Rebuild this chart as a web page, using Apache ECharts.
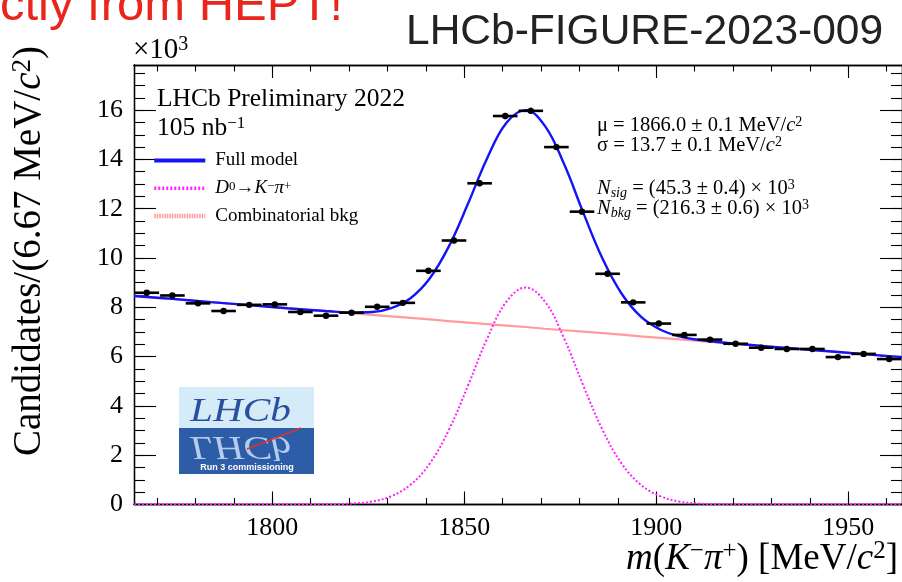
<!DOCTYPE html>
<html>
<head>
<meta charset="utf-8">
<script src="https://cdn.jsdelivr.net/npm/echarts@6/dist/echarts.min.js"></script>
<style>
  html, body { margin: 0; padding: 0; background: #ffffff; }
  #chart { width: 902px; height: 582px; }
</style>
</head>
<body>
<div id="chart"></div>
<script>
// Histogram: m(K-pi+) bin centres [MeV/c^2], bin width 6.67 MeV/c^2
const massCentres = [
  1767.33, 1774.00, 1780.67, 1787.33, 1794.00, 1800.67, 1807.33, 1814.00, 1820.67, 1827.33,
  1834.00, 1840.67, 1847.33, 1854.00, 1860.67, 1867.33, 1874.00, 1880.67, 1887.33, 1894.00,
  1900.67, 1907.33, 1914.00, 1920.67, 1927.33, 1934.00, 1940.67, 1947.33, 1954.00, 1960.67
];
const binHalfWidth = 10 / 3;
// Candidates per bin, in units of 10^3
const candidates = [
  8.59, 8.48, 8.16, 7.85, 8.10, 8.12, 7.81, 7.66, 7.78, 8.02,
  8.18, 9.48, 10.71, 13.03, 15.76, 15.97, 14.50, 11.88, 9.36, 8.20,
  7.34, 6.88, 6.69, 6.52, 6.36, 6.31, 6.31, 5.98, 6.11, 5.90
];

// Fit curves sampled along the mass axis (units of 10^3 per bin)
const curveMass = [
  1764, 1774, 1784, 1794, 1804, 1814, 1821, 1826, 1831, 1836,
  1841, 1846, 1851, 1856, 1861, 1866, 1871, 1876, 1881, 1886,
  1891, 1896, 1901, 1906, 1911, 1916, 1924, 1934, 1944, 1954, 1964
];
const fullModel = [
  8.46, 8.34, 8.21, 8.09, 7.96, 7.85, 7.79, 7.81, 7.97, 8.37,
  9.17, 10.47, 12.21, 14.06, 15.49, 16.00, 15.36, 13.81, 11.84, 9.98,
  8.55, 7.62, 7.10, 6.82, 6.68, 6.59, 6.48, 6.35, 6.23, 6.10, 5.98
];
const signalModel = [
  0, 0, 0, 0, 0, 0.01, 0.04, 0.12, 0.34, 0.80,
  1.66, 3.03, 4.83, 6.74, 8.23, 8.80, 8.23, 6.74, 4.83, 3.03,
  1.66, 0.80, 0.34, 0.12, 0.04, 0.01, 0, 0, 0, 0, 0
];
const combBkg = [
  8.46, 8.34, 8.21, 8.09, 7.96, 7.84, 7.75, 7.69, 7.63, 7.57,
  7.51, 7.44, 7.38, 7.32, 7.26, 7.20, 7.13, 7.07, 7.01, 6.95,
  6.89, 6.82, 6.76, 6.70, 6.64, 6.58, 6.48, 6.35, 6.23, 6.10, 5.98
];

// Axis ticks and labels
const xRange = [1764, 1964];
const xMajorTicks = [1800, 1850, 1900, 1950];
const xMinorTicks = [1770, 1780, 1790, 1800, 1810, 1820, 1830, 1840, 1850, 1860,
                     1870, 1880, 1890, 1900, 1910, 1920, 1930, 1940, 1950, 1960];
const yRange = [0, 17.83];
const yMajorTicks = [0, 2, 4, 6, 8, 10, 12, 14, 16];
const yMinorTicks = [];
for (let t = 0; t <= 17.5; t += 0.5) yMinorTicks.push(t);

const SERIF = '"Liberation Serif", "DejaVu Serif", serif';
const SANS = '"Liberation Sans", Arial, sans-serif';
const INK = '#000000';

const chart = echarts.init(document.getElementById('chart'), null, { renderer: 'canvas' });

function xAxisDef(position, ticks, len, withLabels) {
  return {
    type: 'value', min: xRange[0], max: xRange[1], position: position,
    axisLine: { show: true, onZero: false, lineStyle: { color: INK, width: 1.3 } },
    axisTick: { show: true, inside: true, length: len, customValues: ticks, lineStyle: { color: INK, width: 1.1 } },
    axisLabel: withLabels ? {
      show: true, customValues: xMajorTicks, margin: 11,
      fontFamily: SERIF, fontSize: 26, color: INK,
      formatter: function (v) { return String(v); }
    } : { show: false },
    splitLine: { show: false }
  };
}
function yAxisDef(position, ticks, len, withLabels) {
  return {
    type: 'value', min: yRange[0], max: yRange[1], position: position,
    axisLine: { show: true, onZero: false, lineStyle: { color: INK, width: 1.3 } },
    axisTick: { show: true, inside: true, length: len, customValues: ticks, lineStyle: { color: INK, width: 1.1 } },
    axisLabel: withLabels ? {
      show: true, customValues: yMajorTicks, margin: 11,
      fontFamily: SERIF, fontSize: 26, color: INK,
      formatter: function (v) { return String(v); }
    } : { show: false },
    splitLine: { show: false }
  };
}

function richSet(fs, lh) {
  return {
    n: { fontFamily: SERIF, fontSize: fs, lineHeight: lh, color: INK },
    i: { fontFamily: SERIF, fontSize: fs, lineHeight: lh, fontStyle: 'italic', color: INK },
    s: { fontFamily: SERIF, fontSize: Math.round(fs * 0.68), lineHeight: Math.round(lh * 0.55), verticalAlign: 'top', color: INK },
    b: { fontFamily: SERIF, fontSize: Math.round(fs * 0.7), lineHeight: Math.round(lh * 0.4), verticalAlign: 'bottom', fontStyle: 'italic', color: INK }
  };
}

function textEl(x, y, text, fs, lh, align, extra) {
  return Object.assign({
    type: 'text', x: x, y: y, z: 20,
    style: {
      text: text, rich: richSet(fs, lh),
      font: fs + 'px ' + SERIF, fill: INK,
      align: align || 'left', verticalAlign: 'middle', lineHeight: lh
    }
  }, extra || {});
}

const signalLabel = '{i|D}{s|0}{n|→}{i|K}{s|−}{i|π}{s|+}';

const option = {
  animation: false,
  backgroundColor: '#ffffff',
  grid: { left: 134, top: 65, width: 768, height: 439.5, containLabel: false },
  xAxis: [
    xAxisDef('bottom', xMajorTicks, 13, true),
    xAxisDef('bottom', xMinorTicks, 6.5, false),
    xAxisDef('top', xMajorTicks, 13, false),
    xAxisDef('top', xMinorTicks, 6.5, false)
  ],
  yAxis: [
    yAxisDef('left', yMajorTicks, 22, true),
    yAxisDef('left', yMinorTicks, 11, false),
    yAxisDef('right', yMajorTicks, 22, false),
    yAxisDef('right', yMinorTicks, 11, false)
  ],
  legend: {
    orient: 'vertical', left: 147, top: 146,
    itemWidth: 51, itemHeight: 16, itemGap: 8.8,
    selectedMode: false,
    textStyle: {
      fontFamily: SERIF, fontSize: 19, color: INK, lineHeight: 16,
      padding: [0, 0, 0, 5],
      rich: richSet(19, 16)
    },
    formatter: function (name) { return name === 'signal' ? signalLabel : '{n|' + name + '}'; },
    data: [
      { name: 'Full model', lineStyle: { width: 4 }, itemStyle: { opacity: 0 } },
      { name: 'signal', lineStyle: { width: 3.5 }, itemStyle: { opacity: 0 } },
      { name: 'Combinatorial bkg', lineStyle: { width: 4.5, type: [1.5, 1] }, itemStyle: { opacity: 0 } }
    ]
  },
  series: [
    {
      name: 'Combinatorial bkg', type: 'line', xAxisIndex: 0, yAxisIndex: 0,
      data: curveMass.map((m, i) => [m, combBkg[i]]),
      symbol: 'none', smooth: false, clip: false, z: 3,
      lineStyle: { color: '#ff9b9b', width: 2.2 },
      itemStyle: { color: '#ff9b9b' }
    },
    {
      name: 'signal', type: 'line', xAxisIndex: 0, yAxisIndex: 0,
      data: curveMass.map((m, i) => [m, signalModel[i]]),
      symbol: 'none', smooth: 0.4, clip: false, z: 4,
      lineStyle: { color: '#ff22ff', width: 2, type: [2, 2] },
      itemStyle: { color: '#ff22ff' }
    },
    {
      name: 'Full model', type: 'line', xAxisIndex: 0, yAxisIndex: 0,
      data: curveMass.map((m, i) => [m, fullModel[i]]),
      symbol: 'none', smooth: 0.4, clip: false, z: 5,
      lineStyle: { color: '#1414f5', width: 2.4 },
      itemStyle: { color: '#1414f5' }
    },
    {
      name: 'Data', type: 'custom', xAxisIndex: 0, yAxisIndex: 0, z: 6,
      data: candidates.map((v, i) => [massCentres[i], v, Math.sqrt(v * 1000) / 1000]),
      renderItem: function (params, api) {
        const x = api.value(0), y = api.value(1), e = api.value(2);
        const c = api.coord([x, y]);
        const l = api.coord([x - binHalfWidth, y]);
        const r = api.coord([x + binHalfWidth, y]);
        const t = api.coord([x, y + e]);
        const b = api.coord([x, y - e]);
        return {
          type: 'group',
          children: [
            { type: 'line', shape: { x1: l[0] + 0.5, y1: c[1], x2: r[0] - 0.5, y2: c[1] }, style: { stroke: INK, lineWidth: 2.6 } },
            { type: 'line', shape: { x1: c[0], y1: t[1], x2: c[0], y2: b[1] }, style: { stroke: INK, lineWidth: 2.4 } },
            { type: 'circle', shape: { cx: c[0], cy: c[1], r: 3.2 }, style: { fill: INK } }
          ]
        };
      }
    }
  ],
  graphic: [
    // header lines
    { type: 'text', x: 343, y: 6, z: 20,
      style: { text: 'ctly from HEPT!', font: '49px ' + SANS, fill: '#e8261c', align: 'right', verticalAlign: 'middle' } },
    { type: 'text', x: 406, y: 32, z: 20,
      style: { text: 'LHCb-FIGURE-2023-009', font: '42.5px ' + SANS, fill: '#222222', align: 'left', verticalAlign: 'middle' } },
    // axis exponent
    textEl(133, 50, '{n|×10}{s|3}', 29, 30),
    // axis titles
    textEl(898, 559, '{i|m}{n|(}{i|K}{s|−}{i|π}{s|+}{n|) [MeV/}{i|c}{s|2}{n|]}', 37, 40, 'right'),
    textEl(30, 251, '{n|Candidates/(6.67 MeV/}{i|c}{s|2}{n|)}', 39, 42, 'center', { rotation: Math.PI / 2 }),
    // experiment label
    textEl(157, 99, '{n|LHCb Preliminary 2022}', 25.5, 26),
    textEl(157, 128, '{n|105 nb}{s|−1}', 25.5, 26),
    // fit results
    textEl(597, 126, '{n|μ = 1866.0 ± 0.1 MeV/}{i|c}{s|2}', 20.5, 22),
    textEl(597, 146, '{n|σ = 13.7 ± 0.1 MeV/}{i|c}{s|2}', 20.5, 22),
    textEl(597, 189, '{i|N}{b|sig}{n| = (45.3 ± 0.4) × 10}{s|3}', 20.5, 22),
    textEl(597, 209, '{i|N}{b|bkg}{n| = (216.3 ± 0.6) × 10}{s|3}', 20.5, 22),
    // LHCb Run 3 commissioning logo
    { type: 'group', z: 15, children: [
      { type: 'rect', shape: { x: 179, y: 387, width: 135, height: 87 }, style: { fill: '#2e5da8' } },
      { type: 'rect', shape: { x: 179, y: 387, width: 135, height: 41 }, style: { fill: '#d5ebf7' } },
      { type: 'text', x: 190, y: 429, scaleX: 1.25, scaleY: -1, originX: 0, originY: 0,
        style: { text: 'LHCb', font: 'italic 33px ' + SERIF, fill: '#b4cdee', align: 'left', verticalAlign: 'bottom' } },
      { type: 'text', x: 190, y: 429, scaleX: 1.25, originX: 0, originY: 0,
        style: { text: 'LHCb', font: 'italic 33px ' + SERIF, fill: '#2b4fa0', align: 'left', verticalAlign: 'bottom' } },
      { type: 'line', shape: { x1: 247, y1: 449, x2: 301, y2: 428 }, style: { stroke: '#e0302a', lineWidth: 1.5 } },
      { type: 'text', x: 247, y: 468,
        style: { text: 'Run 3 commissioning', font: 'bold 9px ' + SANS, fill: '#ffffff', align: 'center', verticalAlign: 'middle' } }
    ] }
  ]
};

chart.setOption(option);
</script>
</body>
</html>
